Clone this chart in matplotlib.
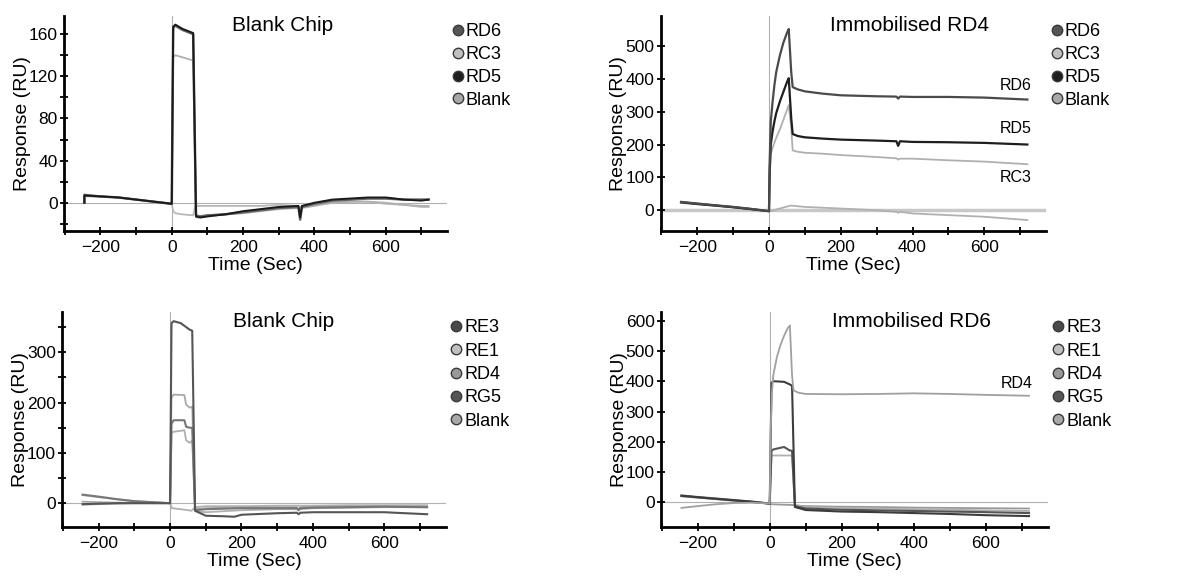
import numpy as np
import matplotlib.pyplot as plt
from matplotlib.lines import Line2D
from matplotlib.ticker import MultipleLocator

plt.rcParams['font.family'] = ['Liberation Sans', 'DejaVu Sans']

# ---- top left: blank chip, RD6 / RC3 / RD5 / blank
a_t = [-245, -245, -200, -150, -100, -50, 0, 4, 10, 30, 60, 68, 80, 100, 150, 200, 250, 300,
       355, 360, 365, 400, 450, 500, 550, 600, 650, 700, 720]
a_rd6 = [0, 7, 6, 5, 3, 1, -1, 166, 168, 164, 160, -12, -13, -12, -11, -9, -7, -5,
         -4, -16, -4, -1, 2, 3, 4, 4, 3, 3, 3]
a_rd5 = [0, 7, 6, 5, 3, 1, -1, 167, 169, 165, 161, -13, -14, -13, -11, -8, -6, -4,
         -3, -14, -3, 0, 3, 4, 5, 5, 3, 2, 3]
a_rc3 = [0, 8, 6, 5, 3, 1, -1, 138, 140, 138, 135, -14, -14, -12, -11, -10, -8, -6,
         -5, -6, -5, -3, 0, 1, 1, 0, -2, -3, -3]
a_t_blank = [-245, -245, -200, -150, -100, -50, 0, 4, 10, 30, 60, 66, 80, 100, 150, 200, 250, 300,
             355, 360, 365, 400, 450, 500, 550, 600, 650, 700, 720]
a_blank = [0, 6, 6, 5, 3, 1, -1, -8, -10, -11, -12, -3, -3, -3, -3, -3, -3, -2,
           -3, -5, -3, -2, 0, 1, 1, -1, -2, -4, -4]

# ---- top right: immobilised RD4
b_t = [-245, -200, -150, -100, -50, 0, 2, 5, 10, 15, 20, 30, 40, 50, 55, 62, 66, 80, 100, 150,
       200, 300, 355, 360, 365, 400, 500, 600, 720]
b_rd6 = [25, 20, 15, 10, 4, -3, 150, 270, 330, 380, 420, 470, 510, 540, 552, 420, 375, 368, 362, 355,
         350, 347, 346, 340, 346, 345, 345, 343, 337]
b_rd5 = [24, 19, 14, 9, 3, -3, 120, 200, 240, 270, 295, 330, 360, 390, 402, 280, 232, 226, 222, 218,
         215, 212, 210, 196, 210, 208, 207, 205, 200]
b_rc3 = [26, 21, 15, 10, 4, -3, 100, 170, 190, 205, 220, 245, 275, 305, 320, 250, 182, 178, 175, 172,
         168, 162, 158, 154, 157, 157, 152, 148, 140]
b_t_blank = [-245, -200, -150, -100, -50, 0, 10, 20, 40, 60, 80, 100, 200, 300, 355, 360, 365,
             400, 500, 600, 720]
b_blank = [22, 18, 14, 9, 4, -3, -2, 2, 8, 14, 12, 10, 5, 0, -5, -8, -5, -10, -15, -20, -30]
b_notes = ["RD6", "RD5", "RC3"]
b_note_y = [381, 250, 101]

# ---- bottom left: blank chip, RE3 / RE1 / RD4 / RG5 / blank
c_t_re3 = [-245, -200, -150, -100, -50, 0, 4, 10, 30, 55, 62, 70, 100, 150, 180, 200, 300,
           355, 360, 365, 400, 500, 600, 720]
c_re3 = [-2, -1, 0, 0, 0, 0, 358, 362, 358, 345, 343, -15, -25, -26, -27, -23, -20,
         -19, -22, -19, -18, -18, -18, -22]
c_t = [-245, -200, -150, -100, -50, 0, 4, 10, 40, 45, 55, 62, 70, 100, 150, 200, 300,
       355, 360, 365, 400, 500, 600, 720]
c_re1 = [3, 2, 1, 1, 0, 0, 210, 216, 215, 196, 190, 192, -12, -10, -9, -8, -8,
         -8, -12, -8, -7, -6, -6, -7]
c_rd4 = [17, 13, 8, 4, 2, 0, 158, 165, 165, 152, 150, 150, -14, -12, -11, -10, -10,
         -10, -13, -10, -9, -8, -7, -8]
c_rg5 = [-3, -2, -1, 0, 0, 0, 140, 142, 145, 125, 120, 125, -16, -18, -16, -14, -12,
         -12, -15, -12, -10, -9, -8, -8]
c_t_blank = [-245, -200, -150, -100, -50, 0, 5, 30, 60, 70, 100, 200, 300, 400, 500, 600, 720]
c_blank = [16, 12, 8, 4, 2, 0, -10, -12, -15, -8, -6, -6, -5, -5, -4, -4, -4]

# ---- bottom right: immobilised RD6
d_t_rd4 = [-245, -200, -150, -100, -50, 0, 3, 6, 10, 20, 30, 40, 50, 56, 62, 66, 80, 100,
           200, 300, 400, 500, 600, 720]
d_rd4 = [-18, -12, -6, -2, -1, -3, 250, 360, 420, 480, 520, 550, 575, 584, 420, 370, 362, 358,
         357, 358, 360, 358, 355, 352]
d_t = [-245, -200, -150, -100, -50, 0, 5, 10, 40, 55, 62, 70, 100, 200, 300, 400, 500, 600, 720]
d_re3 = [22, 17, 12, 7, 2, -4, 395, 400, 398, 390, 385, -15, -25, -30, -32, -35, -38, -42, -45]
d_rg5 = [23, 18, 13, 8, 3, -4, 170, 175, 183, 172, 170, -12, -20, -24, -26, -28, -30, -32, -35]
d_re1 = [20, 16, 11, 6, 2, -3, 155, 155, 155, 155, 155, -8, -15, -18, -20, -22, -24, -26, -28]
d_t_blank = [-245, -200, -150, -100, -50, 0, 5, 30, 60, 70, 100, 200, 300, 400, 500, 600, 720]
d_blank = [21, 16, 11, 6, 1, -3, -6, -7, -8, -10, -12, -14, -15, -17, -18, -19, -20]
d_notes = ["RD4"]
d_note_y = [391]

fig = plt.figure(figsize=(11.86, 5.78), dpi=100)

ax1 = fig.add_axes([0.054, 0.600, 0.323, 0.372])
ax2 = fig.add_axes([0.557, 0.600, 0.325, 0.372])
ax3 = fig.add_axes([0.0525, 0.0877, 0.3233, 0.3723])
ax4 = fig.add_axes([0.5573, 0.0877, 0.3261, 0.3723])


def style(ax, ylim, ymajor, yminor, title, tx, zero_lw=0.8, zero_c="#b0b0b0"):
    ax.set_xlim(-302, 772)
    ax.set_ylim(*ylim)
    ax.axhline(0, color=zero_c, lw=zero_lw, zorder=0)
    ax.axvline(0, color="#b0b0b0", lw=0.8, zorder=0)
    for s in ["top", "right"]:
        ax.spines[s].set_visible(False)
    for s in ["left", "bottom"]:
        ax.spines[s].set_linewidth(2.0)
    ax.xaxis.set_major_locator(MultipleLocator(200))
    ax.xaxis.set_minor_locator(MultipleLocator(100))
    ax.yaxis.set_major_locator(MultipleLocator(ymajor))
    if yminor:
        ax.yaxis.set_minor_locator(MultipleLocator(yminor))
    ax.tick_params(which="both", direction="inout", length=6, width=1.3, labelsize=12.5)
    ax.tick_params(axis="y", pad=1.5)
    ax.tick_params(axis="x", pad=3)
    ax.set_xlabel("Time (Sec)", fontsize=14, labelpad=1.5)
    ax.set_ylabel("Response (RU)", fontsize=14, labelpad=-1.5)
    ax.text(tx, 0.955, title, transform=ax.transAxes, ha="center", va="center", fontsize=15)


def legend(ax, names, faces, spacing):
    handles = [Line2D([], [], ls="none", marker="o", markersize=7.5, markerfacecolor=f,
                      markeredgecolor="#3a3a3a", markeredgewidth=1.0) for f in faces]
    ax.legend(handles, names, loc="upper left", bbox_to_anchor=(0.995, 1.0), frameon=False,
              handlelength=0.6, handletextpad=0.15, labelspacing=spacing, fontsize=13,
              borderaxespad=0.0)


# top left
style(ax1, (-27, 177), 40, 20, "Blank Chip", 0.57)
ax1.plot(a_t_blank, a_blank, color="#b8b8b8", lw=1.3)
ax1.plot(a_t, a_rc3, color="#b0b0b0", lw=1.3)
ax1.plot(a_t, a_rd6, color="#666666", lw=1.8)
ax1.plot(a_t, a_rd5, color="#1a1a1a", lw=1.4)
legend(ax1, ["RD6", "RC3", "RD5", "Blank"], ["#555555", "#c0c0c0", "#1e1e1e", "#a8a8a8"], 0.32)

# top right
style(ax2, (-64, 591), 100, None, "Immobilised RD4", 0.645, zero_lw=2.5, zero_c="#c8c8c8")
ax2.plot(b_t_blank, b_blank, color="#b0b0b0", lw=1.3)
ax2.plot(b_t, b_rc3, color="#b0b0b0", lw=1.3)
ax2.plot(b_t, b_rd5, color="#1e1e1e", lw=1.6)
ax2.plot(b_t, b_rd6, color="#4a4a4a", lw=1.6)
for name, y in zip(b_notes, b_note_y):
    ax2.text(731, y, name, ha="right", va="center", fontsize=11.5)
legend(ax2, ["RD6", "RC3", "RD5", "Blank"], ["#555555", "#c0c0c0", "#1e1e1e", "#a8a8a8"], 0.32)

# bottom left
style(ax3, (-48, 380), 100, 50, "Blank Chip", 0.576)
ax3.plot(c_t_blank, c_blank, color="#b0b0b0", lw=1.3)
ax3.plot(c_t, c_rg5, color="#b0b0b0", lw=1.3)
ax3.plot(c_t, c_re1, color="#a8a8a8", lw=1.3)
ax3.plot(c_t, c_rd4, color="#777777", lw=1.5)
ax3.plot(c_t_re3, c_re3, color="#555555", lw=1.5)
legend(ax3, ["RE3", "RE1", "RD4", "RG5", "Blank"],
       ["#4a4a4a", "#c0c0c0", "#999999", "#555555", "#a8a8a8"], 0.35)

# bottom right
style(ax4, (-82, 628), 100, None, "Immobilised RD6", 0.649)
ax4.plot(d_t_blank, d_blank, color="#999999", lw=1.3)
ax4.plot(d_t, d_re1, color="#b0b0b0", lw=1.3)
ax4.plot(d_t, d_rg5, color="#555555", lw=1.5)
ax4.plot(d_t, d_re3, color="#3c3c3c", lw=1.5)
ax4.plot(d_t_rd4, d_rd4, color="#a0a0a0", lw=1.3)
for name, y in zip(d_notes, d_note_y):
    ax4.text(731, y, name, ha="right", va="center", fontsize=11.5)
legend(ax4, ["RE3", "RE1", "RD4", "RG5", "Blank"],
       ["#4a4a4a", "#c0c0c0", "#999999", "#555555", "#a8a8a8"], 0.35)

fig.savefig("out.png", dpi=100)
